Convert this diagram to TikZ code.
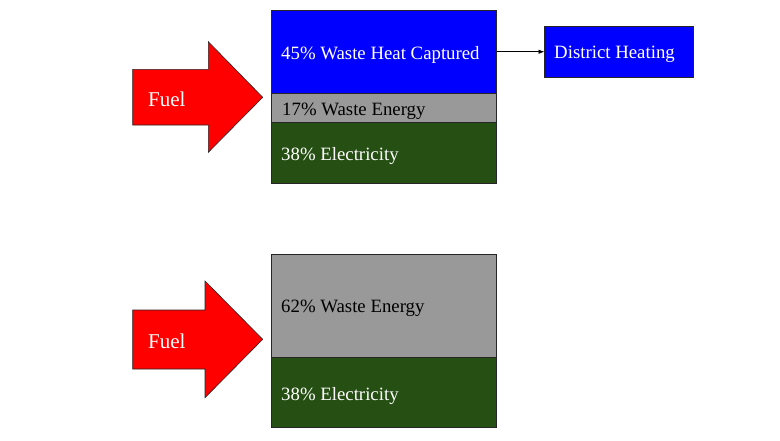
\documentclass[tikz,border=0pt]{standalone}
\usepackage{fontspec}
\setmainfont{Liberation Serif}
\usetikzlibrary{arrows.meta}
\definecolor{heatblue}{RGB}{0,0,255}
\definecolor{wastegray}{RGB}{153,153,153}
\definecolor{elecgreen}{RGB}{38,79,20}
\definecolor{fuelred}{RGB}{255,0,0}
\begin{document}
\begin{tikzpicture}[x=1pt,y=-1pt,
  part/.style={draw=black!85, line width=0.8pt, anchor=north west, inner sep=0pt, outer sep=0pt, minimum width=225pt},
  lbl/.style={anchor=west, inner sep=0pt, font=\fontsize{18.8}{20}\selectfont},
  fuellbl/.style={anchor=west, inner sep=0pt, white, font=\fontsize{21}{22}\selectfont},
  fuelarrow/.style={fill=fuelred, draw=black!85, line width=0.6pt},
  link/.style={-{Latex[length=6pt,width=4.5pt]}, line width=0.8pt, black}]
\useasboundingbox[fill=white] (0,0) rectangle (780,440);
% top scheme
\node[part, fill=heatblue, minimum height=83.5pt] (heat) at (271.5,10) {};
\node[part, fill=wastegray, minimum height=29pt] (waste1) at (271.5,93.5) {};
\node[part, fill=elecgreen, minimum height=60.5pt] (elec1) at (271.5,122.5) {};
\node[lbl, white] (theat) at (281,55) {45\% Waste Heat Captured};
\node[lbl, black] (twaste1) at (282,111) {17\% Waste Energy};
\node[lbl, white] (telec1) at (281,156) {38\% Electricity};
\node[part, fill=heatblue, minimum width=149pt, minimum height=51.5pt] (dh) at (544.5,26) {};
\node[lbl, white] (tdh) at (554,54.5) {District Heating};
\draw[link] (heat.east) -- (dh.west);
\draw[fuelarrow] (132.7,69.3) -- (208.3,69.3) -- (208.3,41.7) -- (262.7,97.3) -- (208.3,152.3) -- (208.3,125) -- (132.7,125) -- cycle;
\node[fuellbl] (fuel1) at (148,99) {Fuel};
% bottom scheme
\node[part, fill=wastegray, minimum height=103pt] (waste2) at (271.5,254) {};
\node[part, fill=elecgreen, minimum height=70.5pt] (elec2) at (271.5,357) {};
\node[lbl, black] (twaste2) at (281,308.5) {62\% Waste Energy};
\node[lbl, white] (telec2) at (281,396) {38\% Electricity};
\draw[fuelarrow] (132.7,310) -- (205,310) -- (205,281) -- (262.7,339.3) -- (205,397.7) -- (205,369) -- (132.7,369) -- cycle;
\node[fuellbl] (fuel2) at (148,341) {Fuel};
\end{tikzpicture}
\end{document}
